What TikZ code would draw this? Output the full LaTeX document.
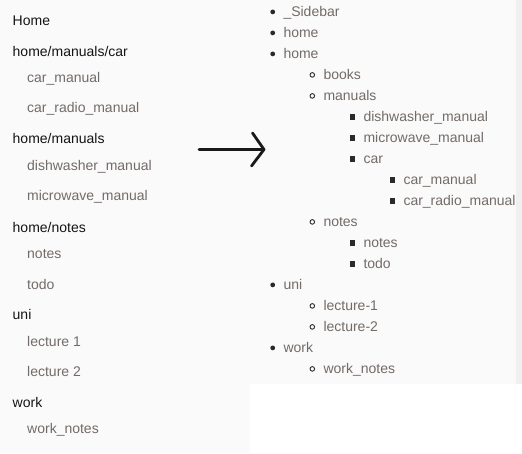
\documentclass[tikz,border=0pt]{standalone}
\usepackage{fontspec}
\setmainfont{Liberation Sans}
\definecolor{panelbg}{HTML}{FAFAFA}
\definecolor{scrollbg}{HTML}{F0F0F0}
\definecolor{headtext}{HTML}{141414}
\definecolor{itemtext}{HTML}{736B67}
\definecolor{bulletcol}{HTML}{2A2A2A}
\tikzset{
  heading/.style={anchor=base west, inner sep=0pt, text=headtext, font=\fontsize{14}{16}\selectfont},
  item/.style={anchor=base west, inner sep=0pt, text=itemtext, font=\fontsize{14}{16}\selectfont},
  discbullet/.style={circle, fill=bulletcol, inner sep=0pt, minimum size=4.8pt},
  ringbullet/.style={circle, draw=bulletcol, line width=0.9pt, fill=panelbg, inner sep=0pt, minimum size=4.6pt},
  squarebullet/.style={rectangle, fill=bulletcol, inner sep=0pt, minimum size=5.2pt},
  arrowline/.style={line width=2.8pt, draw=black!90, line cap=round, line join=round}
}
\begin{document}
\begin{tikzpicture}[x=1pt,y=-1pt]
\useasboundingbox (0,0) rectangle (522,453);
\fill[white] (0,0) rectangle (522,453);
\fill[panelbg] (0,0) rectangle (522,384);
\fill[panelbg] (0,0) rectangle (250,453);
\fill[scrollbg] (516,0) rectangle (522,384);

% left panel
\node[heading] (h1) at (12.5,25.5) {Home};
\node[heading] (h2) at (12.5,56) {home/manuals/car};
\node[item] (l1) at (27,82) {car\_manual};
\node[item] (l2) at (27,112.7) {car\_radio\_manual};
\node[heading] (h3) at (12.5,143.3) {home/manuals};
\node[item] (l3) at (27,170) {dishwasher\_manual};
\node[item] (l4) at (27,200.7) {microwave\_manual};
\node[heading] (h4) at (12.5,232) {home/notes};
\node[item] (l5) at (27,258.3) {notes};
\node[item] (l6) at (27,289) {todo};
\node[heading] (h5) at (12.5,319.3) {uni};
\node[item] (l7) at (27,346) {lecture 1};
\node[item] (l8) at (27,376.7) {lecture 2};
\node[heading] (h6) at (12.5,407.7) {work};
\node[item] (l9) at (27,433.7) {work\_notes};

% arrow
\coordinate (as) at (199,149.5);
\coordinate (at) at (264,149.5);
\coordinate (au) at (252.5,133);
\coordinate (ad) at (251.5,166);
\draw[arrowline] (as) -- (at);
\draw[arrowline] (au) -- (at) -- (ad);

% right panel
\foreach \n/\lvl/\txt [count=\k from 0] in {
  r0/1/\_Sidebar, r1/1/home, r2/1/home, r3/2/books, r4/2/manuals,
  r5/3/dishwasher\_manual, r6/3/microwave\_manual, r7/3/car,
  r8/4/car\_manual, r9/4/car\_radio\_manual, r10/2/notes,
  r11/3/notes, r12/3/todo, r13/1/uni, r14/2/lecture-1, r15/2/lecture-2,
  r16/1/work, r17/2/work\_notes}{
  \pgfmathsetmacro{\yy}{16.9+21*\k}
  \pgfmathsetmacro{\xx}{283.3+40*(\lvl-1)}
  \node[item] (\n) at (\xx,\yy) {\txt};
  \ifnum\lvl=1
    \node[discbullet] (\n b) at (\xx-10.6,\yy-5) {};
  \fi
  \ifnum\lvl=2
    \node[ringbullet] (\n b) at (\xx-11,\yy-5) {};
  \fi
  \ifnum\lvl>2
    \node[squarebullet] (\n b) at (\xx-10.5,\yy-5) {};
  \fi
}
\end{tikzpicture}
\end{document}
